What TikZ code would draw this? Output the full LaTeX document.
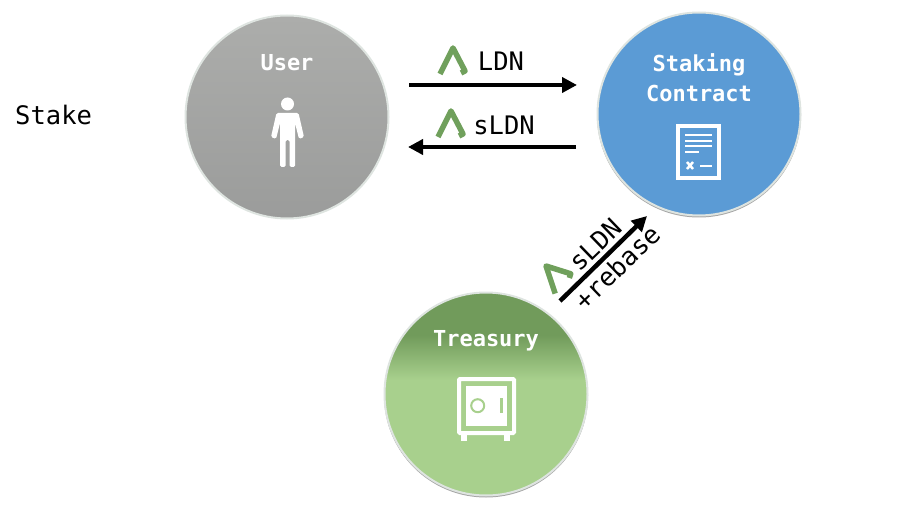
\documentclass[tikz,border=0pt]{standalone}
\usepackage{fontspec}
\setmonofont{DejaVu Sans Mono}
\usetikzlibrary{calc}
\usetikzlibrary{arrows.meta}
\definecolor{userTop}{RGB}{172,173,171}
\definecolor{userBottom}{RGB}{155,156,155}
\definecolor{stakeBlue}{RGB}{91,155,213}
\definecolor{treasuryDark}{RGB}{113,155,91}
\definecolor{treasuryLight}{RGB}{168,208,141}
\definecolor{logoGreen}{RGB}{112,160,92}
\definecolor{haloGrey}{RGB}{222,228,224}
\pgfdeclareverticalshading{treasuryShade}{100bp}{
  rgb(0bp)=(0.659,0.816,0.553);
  rgb(53.5bp)=(0.659,0.816,0.553);
  rgb(64.5bp)=(0.443,0.608,0.357);
  rgb(100bp)=(0.443,0.608,0.357)}
\tikzset{
  disc/.style={circle,minimum size=203pt,inner sep=0pt,draw=haloGrey,line width=2pt},
  title/.style={text=white,font=\ttfamily\bfseries\fontsize{22}{22}\selectfont,align=center},
  tag/.style={font=\ttfamily\fontsize{25.5}{25.5}\selectfont,text=black},
  flow/.style={line width=4.5pt,-{Triangle[length=15pt,width=15pt]}},
  icon/.style={draw=white,line width=4pt},
  logo/.pic={
    \draw[logoGreen,line width=5.5pt,line join=round,line cap=butt]
      (-13,-26) -- (0,0) -- (12,-23) -- (8,-25);
  }
}
\begin{document}
\begin{tikzpicture}[x=1pt,y=1pt]
\useasboundingbox (0,0) rectangle (920,504);
% Soft shadow below the two coloured discs
\fill[black!35] (699,388.5) circle (102);
\fill[black!35] (486,108.5) circle (102);
% Discs
\node[disc,top color=userTop,bottom color=userBottom] (user) at (287,387) {};
\node[disc,fill=stakeBlue] (staking) at (699,390) {};
\node[disc,shading=treasuryShade] (treasury) at (486,110) {};
% Titles
\node[title] (userTitle) at (287,441) {User};
\node[title] (stakingTitle) at (699,426) {Staking\\[8pt]Contract};
\node[title] (treasuryTitle) at (486,163) {Treasury};
\node[tag,anchor=west,inner sep=0pt] (stake) at (15,389) {Stake};
% Person icon
\begin{scope}[shift={(287.5,387)}]
\fill[white] (0,13) circle (6.5);
\fill[white,rounded corners=1.5pt] (-11,4) -- (-16.5,-20) -- (-11.5,-22) -- (-7.5,-6) -- (-7.5,-50)
  -- (-2,-50) -- (-2,-23) -- (2,-23) -- (2,-50) -- (7.5,-50) -- (7.5,-6)
  -- (11.5,-22) -- (16.5,-20) -- (11,4) -- cycle;
\end{scope}
% Contract icon
\begin{scope}[shift={(699,390)}]
\draw[icon] (-21,-12) rectangle (20,-64);
\foreach \yy in {-21,-26.7,-32} \draw[white,line width=2pt] (-14,\yy) -- (13,\yy);
\draw[white,line width=2pt] (-14,-38.3) -- (0,-38.3);
\draw[white,line width=2.5pt] (-12,-48) -- (-6,-55) (-12,-55) -- (-6,-48);
\draw[white,line width=2.5pt] (1,-52) -- (13,-52);
\end{scope}
% Safe icon
\begin{scope}[shift={(486,110)}]
\draw[icon,rounded corners=1pt] (-27,15) rectangle (28,-39);
\fill[white] (-20,8) rectangle (21,-32);
\fill[white] (-25,-41) rectangle (-19,-47);
\fill[white] (18,-41) rectangle (24,-47);
\draw[treasuryLight,line width=2pt] (-8.3,-11.7) circle (6.5);
\draw[treasuryLight,line width=3pt] (15.7,-4) -- (15.7,-19);
\end{scope}
% Arrows between the discs
\coordinate (ldnStart) at (409,419);
\coordinate (ldnEnd) at (577,419);
\coordinate (sldnStart) at (576,357);
\coordinate (sldnEnd) at (408,357);
\coordinate (rebaseStart) at (560,203);
\coordinate (rebaseEnd) at (647,288);
\draw[flow] (ldnStart) -- (ldnEnd);
\draw[flow] (sldnStart) -- (sldnEnd);
\draw[flow] (rebaseStart) -- (rebaseEnd);
% Token labels
\pic (logoLdn) at (453,456) {logo};
\pic (logoSldn) at (451,393) {logo};
\pic[rotate=45] (logoRebase) at (546,238) {logo};
\node[tag] (ldn) at (501,443) {LDN};
\node[tag] (sldn) at (504,379) {sLDN};
\node[tag,rotate=44] (sldnTilt) at (595,259) {sLDN};
\node[tag,rotate=44] (rebase) at (617,237) {+rebase};
\end{tikzpicture}
\end{document}
